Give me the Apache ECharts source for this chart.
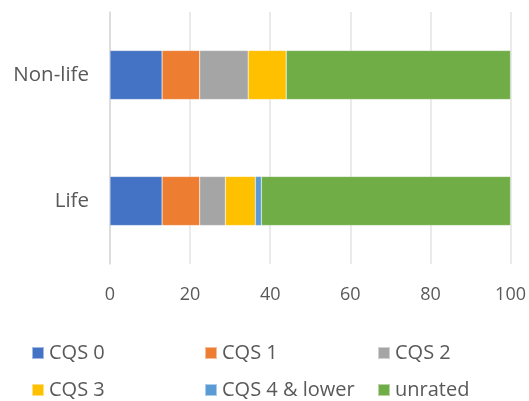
<!DOCTYPE html>
<html>
<head>
<meta charset="utf-8">
<script src="https://cdn.jsdelivr.net/npm/echarts@6/dist/echarts.min.js"></script>
<style>
  html, body { margin: 0; padding: 0; background: #fff; }
  #chart { width: 529px; height: 401px; }
</style>
</head>
<body>
<div id="chart"></div>
<script>
// Categories (bottom to top)
const categories = ['Life', 'Non-life'];

// Share of holdings by credit quality step, per category
const cqs0 = [13.0, 13.0];
const cqs1 = [9.4, 9.4];
const cqs2 = [6.4, 12.1];
const cqs3 = [7.5, 9.5];
const cqs4Lower = [1.5, 0.0];
const unrated = [62.2, 56.0];

const xTicks = { min: 0, max: 100, interval: 20 };

const seriesDefs = [
  { name: 'CQS 0', data: cqs0, color: '#4472C4' },
  { name: 'CQS 1', data: cqs1, color: '#ED7D31' },
  { name: 'CQS 2', data: cqs2, color: '#A5A5A5' },
  { name: 'CQS 3', data: cqs3, color: '#FFC000' },
  { name: 'CQS 4 & lower', data: cqs4Lower, color: '#5B9BD5' },
  { name: 'unrated', data: unrated, color: '#70AD47' }
];

const fontFamily = '"Open Sans", "Noto Sans", sans-serif';
const textColor = '#595959';

// One legend column holding two stacked entries
function legendColumn(left, names) {
  return {
    orient: 'vertical',
    left: left,
    top: 343,
    height: 60,
    padding: 0,
    itemWidth: 12,
    itemHeight: 12,
    itemGap: 17,
    icon: 'rect',
    data: names,
    textStyle: { color: textColor, fontSize: 20, lineHeight: 20, fontFamily: fontFamily }
  };
}

const chart = echarts.init(document.getElementById('chart'), null, { renderer: 'canvas' });
chart.setOption({
  animation: false,
  backgroundColor: '#fff',
  grid: { left: 110, right: 16, top: 12, bottom: 137, containLabel: false },
  xAxis: {
    type: 'value',
    min: xTicks.min,
    max: xTicks.max,
    interval: xTicks.interval,
    axisLine: { show: false },
    axisTick: { show: false },
    splitLine: { show: true, lineStyle: { color: '#E3E3E3', width: 1.5 } },
    axisLabel: { color: textColor, fontSize: 18, fontFamily: fontFamily, margin: 22 }
  },
  yAxis: {
    type: 'category',
    data: categories,
    axisLine: { show: true, lineStyle: { color: '#D9D9D9', width: 1.5 } },
    axisTick: { show: false },
    axisLabel: { color: textColor, fontSize: 20.5, fontFamily: fontFamily, margin: 21 }
  },
  legend: [
    legendColumn(31, ['CQS 0', 'CQS 3']),
    legendColumn(204, ['CQS 1', 'CQS 4 & lower']),
    legendColumn(377, ['CQS 2', 'unrated'])
  ],
  series: seriesDefs.map(s => ({
    name: s.name,
    type: 'bar',
    stack: 'total',
    barWidth: '39%',
    data: s.data,
    itemStyle: { color: s.color, borderColor: 'rgba(255,255,255,0.5)', borderWidth: 0.5 }
  }))
});
</script>
</body>
</html>
